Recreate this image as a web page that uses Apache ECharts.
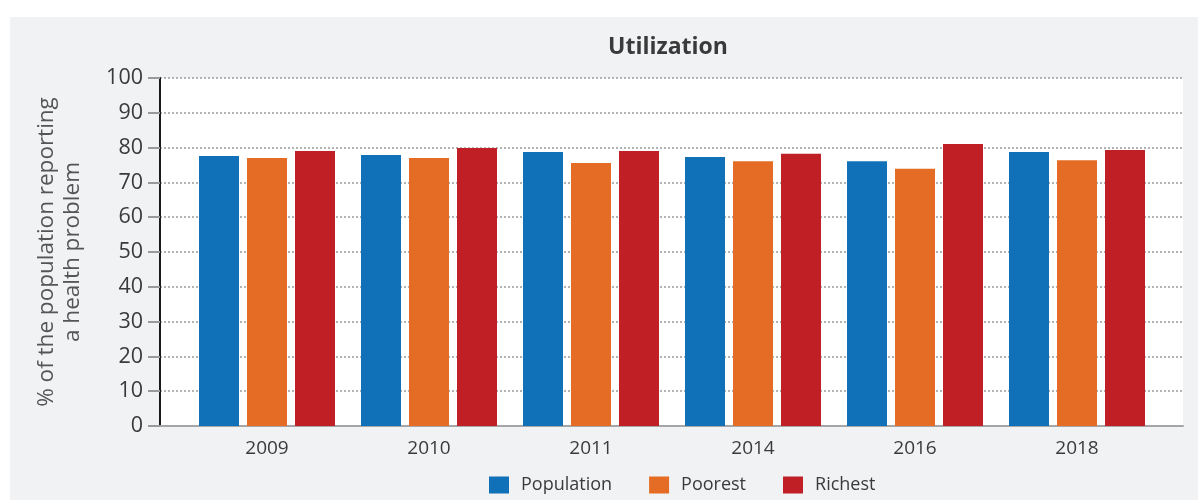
<!DOCTYPE html>
<html>
<head>
<meta charset="utf-8">
<script src="https://cdn.jsdelivr.net/npm/echarts@6/dist/echarts.min.js"></script>
<style>
html,body{margin:0;padding:0;background:#fff;}
#chart{width:1198px;height:500px;
background: linear-gradient(#fff,#fff) 0 0/100% 17px no-repeat, linear-gradient(#fff,#fff) 0 0/10px 100% no-repeat, #f1f2f4;}
</style>
</head>
<body>
<div id="chart"></div>
<script>
const categories = ['2009', '2010', '2011', '2014', '2016', '2018'];
const population = [77.6, 77.9, 78.7, 77.3, 76.1, 78.7];
const poorest = [77.0, 77.0, 75.6, 76.1, 73.9, 76.4];
const richest = [79.0, 79.9, 79.0, 78.2, 81.0, 79.3];
const seriesNames = ['Population', 'Poorest', 'Richest'];
const yTicks = [0, 10, 20, 30, 40, 50, 60, 70, 80, 90, 100];
const titleText = 'Utilization';
const yAxisName = '% of the population reporting\na health problem';

const colors = ['#1071b9', '#e56c25', '#c01f26'];
const narrow = '"Liberation Sans Narrow", "Open Sans", sans-serif';

const chart = echarts.init(document.getElementById('chart'));
chart.setOption({
  animation: false,
  color: colors,
  title: {
    text: titleText,
    left: 663, top: 31, textAlign: 'center',
    textStyle: { fontFamily: '"Open Sans", sans-serif', fontWeight: 'bold', fontSize: 23, color: '#3a3a3a' }
  },
  legend: {
    data: seriesNames,
    left: 489, top: 476, padding: 0,
    itemWidth: 20, itemHeight: 17, itemGap: 37,
    icon: 'rect',
    textStyle: { fontFamily: narrow, fontSize: 18, color: '#3a3a3a', padding: [0, 0, 0, 7] }
  },
  grid: [
    { left: 160, right: 15, top: 78, bottom: 74, show: true, backgroundColor: '#ffffff', borderWidth: 0 },
    { left: 186, right: 40, top: 78, bottom: 74 }
  ],
  xAxis: [
    { type: 'value', gridIndex: 0, min: 0, max: 1, show: true,
      axisLine: { show: true, onZero: false, lineStyle: { color: '#a6a6a6', width: 2 } },
      axisTick: { show: false }, axisLabel: { show: false }, splitLine: { show: false } },
    { type: 'category', gridIndex: 1, data: categories,
      axisLine: { show: false }, axisTick: { show: false },
      axisLabel: { margin: 13, fontFamily: narrow, fontSize: 19, color: '#3a3a3a' } }
  ],
  yAxis: [
    { type: 'value', gridIndex: 0, min: yTicks[0], max: yTicks[yTicks.length - 1], interval: 10,
      name: yAxisName, nameLocation: 'middle', nameGap: 74,
      nameTextStyle: { fontFamily: '"Open Sans", sans-serif', fontSize: 22.5, color: '#555', lineHeight: 26 },
      axisLine: { show: true, lineStyle: { color: '#1a1a1a', width: 2 } },
      axisTick: { show: true, length: 12, lineStyle: { color: '#999', width: 2 } },
      axisLabel: { margin: 17, fontFamily: '"Open Sans", sans-serif', fontSize: 21.5, color: '#3a3a3a' },
      splitLine: { show: true, lineStyle: { color: '#9a9a9a', width: 1.5, type: [2, 2] } } },
    { type: 'value', gridIndex: 1, min: 0, max: 100, show: false }
  ],
  series: [
    { name: seriesNames[0], type: 'bar', xAxisIndex: 1, yAxisIndex: 1, data: population, barWidth: 40, barGap: '20%' },
    { name: seriesNames[1], type: 'bar', xAxisIndex: 1, yAxisIndex: 1, data: poorest, barWidth: 40, barGap: '20%' },
    { name: seriesNames[2], type: 'bar', xAxisIndex: 1, yAxisIndex: 1, data: richest, barWidth: 40, barGap: '20%' }
  ]
});
</script>
</body>
</html>
